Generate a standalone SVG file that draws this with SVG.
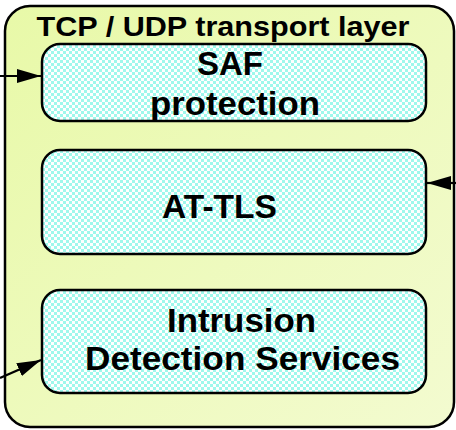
<svg xmlns="http://www.w3.org/2000/svg" width="456" height="430" viewBox="0 0 456 430">
<defs>
<linearGradient id="bg" x1="0" y1="0" x2="1" y2="1">
<stop offset="0" stop-color="#e8f9a8"/>
<stop offset="1" stop-color="#f3fbd0"/>
</linearGradient>
<pattern id="chk" width="6" height="6" patternUnits="userSpaceOnUse">
<rect width="6" height="6" fill="#ffffff"/>
<rect width="3" height="3" fill="#9ff8ec"/>
<rect x="3" y="3" width="3" height="3" fill="#9ff8ec"/>
</pattern>
<marker id="ah" viewBox="0 0 24 14" refX="24" refY="7" markerWidth="24" markerHeight="14" markerUnits="userSpaceOnUse" orient="auto">
<path d="M0,0 L24,7 L0,14 Z" fill="#000"/>
</marker>
</defs>
<style>
.box{fill:url(#chk);stroke:#000;stroke-width:2.5}
.t{font-family:"Liberation Sans",Arial,sans-serif;font-weight:bold;fill:#000;text-anchor:middle}
.b{font-size:33px}
.c{stroke:#000;stroke-width:2.2;fill:none;marker-end:url(#ah)}
</style>
<g id="layer">
<rect x="5" y="6" width="449" height="421" rx="25" fill="url(#bg)" stroke="#000" stroke-width="2.5"/>
<text class="t" x="223" y="36" font-size="28" textLength="373" lengthAdjust="spacingAndGlyphs">TCP / UDP transport layer</text>
</g>
<g id="saf">
<rect class="box" x="42" y="44" width="384" height="77" rx="18"/>
<text class="t b" x="230" y="75" textLength="66" lengthAdjust="spacingAndGlyphs">SAF</text>
<text class="t b" x="235" y="115" textLength="170" lengthAdjust="spacingAndGlyphs">protection</text>
</g>
<g id="attls">
<rect class="box" x="42" y="150" width="384" height="104" rx="18"/>
<text class="t b" x="219.5" y="218" textLength="115" lengthAdjust="spacingAndGlyphs">AT-TLS</text>
</g>
<g id="ids">
<rect class="box" x="42" y="290" width="384" height="103" rx="18"/>
<text class="t b" x="241.5" y="332" textLength="149" lengthAdjust="spacingAndGlyphs">Intrusion</text>
<text class="t b" x="242.5" y="370" textLength="315" lengthAdjust="spacingAndGlyphs">Detection Services</text>
</g>
<g id="connectors">
<line class="c" x1="0" y1="76" x2="41" y2="76"/>
<line class="c" x1="456" y1="183" x2="427" y2="183"/>
<line class="c" x1="0" y1="378" x2="41" y2="360"/>
</g>
</svg>
